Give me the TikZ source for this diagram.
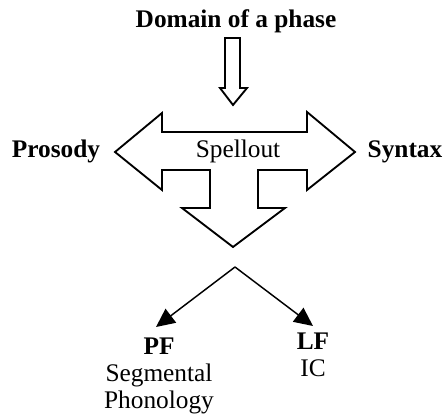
\documentclass[tikz,border=0pt]{standalone}
\usepackage{fontspec}
\setmainfont{Liberation Serif}
\usetikzlibrary{arrows.meta}
\begin{document}
\begin{tikzpicture}[x=0.75pt,y=-0.75pt,
  lbl/.style={inner sep=0pt,font=\fontsize{19}{20}\selectfont},
  blbl/.style={lbl,font=\fontsize{19}{20}\selectfont\bfseries},
  stack/.style={lbl,align=center,anchor=north},
  hollow/.style={draw=black,line width=1.4pt,line join=miter,fill=white},
  branch/.style={draw=black,line width=1.1pt,-{Triangle[length=14pt,width=13pt]}}]
\useasboundingbox (0,0) rectangle (445,416);
% title
\node[blbl,anchor=base] (title) at (236,28) {Domain of a phase};
% small hollow down arrow
\draw[hollow] (225,38) -- (240,38) -- (240,88) -- (247,88) -- (233,105) -- (220,88) -- (225,88) -- cycle;
% big hollow T-arrow
\draw[hollow] (115,152) -- (162,113) -- (162,132) -- (307,132) -- (307,112) -- (355,152)
  -- (307,190) -- (307,170) -- (258,170) -- (258,208) -- (285,208) -- (233,247)
  -- (182,208) -- (210,208) -- (210,170) -- (162,170) -- (162,190) -- cycle;
\node[blbl,anchor=base] (prosody) at (56,158) {Prosody};
\node[blbl,anchor=base] (syntax) at (405,158) {Syntax};
\node[lbl,anchor=base] (spellout) at (238,158) {Spellout};
% bottom branches
\coordinate (apex) at (235,267);
\coordinate (pftip) at (156,327);
\coordinate (lftip) at (313,326);
\draw[branch] (apex) -- (pftip);
\draw[branch] (apex) -- (lftip);
\node[stack] (pf) at (159,338) {\textbf{PF}\\Segmental\\Phonology};
\node[stack] (lf) at (313,333) {\textbf{LF}\\IC};
\end{tikzpicture}
\end{document}
